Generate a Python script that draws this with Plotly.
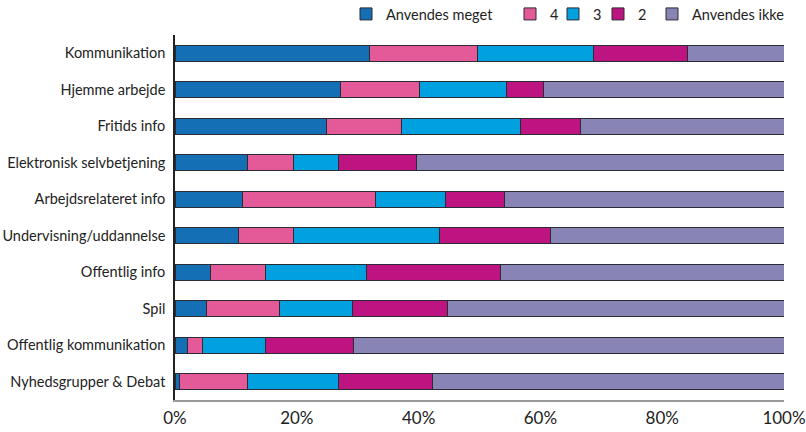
import plotly.graph_objects as go

categories = ["Kommunikation", "Hjemme arbejde", "Fritids info", "Elektronisk selvbetjening",
              "Arbejdsrelateret info", "Undervisning/uddannelse", "Offentlig info", "Spil",
              "Offentlig kommunikation", "Nyhedsgrupper & Debat"]

# segment values (%)
meget = [32.0, 27.1, 24.9, 11.9, 11.1, 10.5, 5.9, 5.1, 2.1, 0.7]
v4 = [17.6, 13.0, 12.3, 7.6, 21.9, 9.0, 9.0, 12.0, 2.4, 11.2]
v3 = [19.2, 14.4, 19.5, 7.4, 11.4, 24.0, 16.6, 12.1, 10.4, 15.0]
v2 = [15.3, 6.0, 9.9, 12.8, 9.7, 18.1, 21.9, 15.6, 14.4, 15.3]
ikke = [round(100 - a - b - c - d, 1) for a, b, c, d in zip(meget, v4, v3, v2)]

series_names = ["Anvendes meget", "4", "3", "2", "Anvendes ikke"]
series_vals = [meget, v4, v3, v2, ikke]
colors = ["#146fb4", "#e45a99", "#00a1de", "#be1481", "#8884b6"]
legend_ids = ["legend", "legend2", "legend3", "legend4", "legend5"]
legend_px = [346, 510, 553, 598, 652]

FONT = "Lato"
fig = go.Figure()
for name, vals, col, lid in zip(series_names, series_vals, colors, legend_ids):
    fig.add_trace(go.Bar(
        y=categories, x=vals, name=name, orientation="h",
        marker=dict(color=col, line=dict(color="#2b2b33", width=1)),
        width=0.44, legend=lid,
    ))

L, R, T, B = 175, 22, 35, 32
H = 432 - T - B
W = 806 - L - R
layout_legends = {}
for lid, px in zip(legend_ids, legend_px):
    layout_legends[lid] = dict(
        x=(px - L) / W, xanchor="left", y=1.0 + (T - 14) / H, yanchor="middle",
        orientation="h", bgcolor="rgba(0,0,0,0)",
        font=dict(family=FONT, size=14.5, color="#222"),
        itemwidth=30, itemclick=False,
    )

fig.update_layout(
    width=806, height=432,
    margin=dict(l=L, r=R, t=T, b=B, autoexpand=False),
    barmode="stack",
    plot_bgcolor="white", paper_bgcolor="white",
    font=dict(family=FONT, color="#222"),
    showlegend=True,
    **layout_legends,
)
fig.update_xaxes(
    range=[0, 100], tickvals=[0, 20, 40, 60, 80, 100],
    ticktext=["0%", "20%", "40%", "60%", "80%", "100%"],
    showgrid=False, zeroline=False, showline=True, linecolor="#999", linewidth=1.5,
    tickfont=dict(family=FONT, size=17, color="#222"), ticks="", ticklen=0,
    ticklabelstandoff=2,
    fixedrange=True,
)
fig.update_yaxes(
    categoryorder="array", categoryarray=categories[::-1],
    showgrid=False, zeroline=False, showline=True, linecolor="#222", linewidth=1.5,
    tickfont=dict(family=FONT, size=14.5, color="#222"), ticks="", ticklen=0,
    ticklabelstandoff=5,
    fixedrange=True,
)
fig.write_html("out.html")
